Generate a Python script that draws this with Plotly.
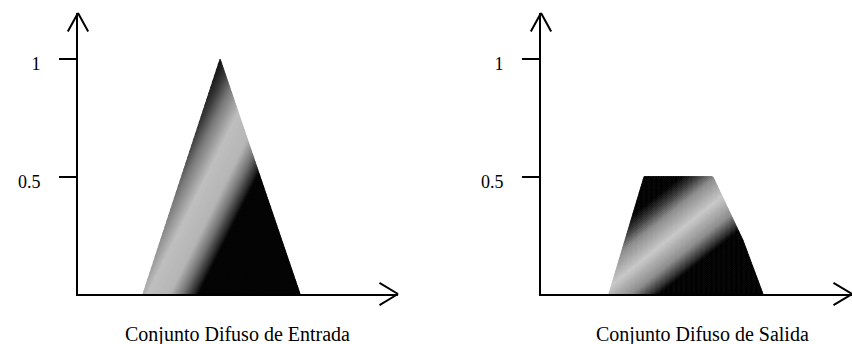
import plotly.graph_objects as go

# ---------------- data ----------------
in_x = [2.03, 4.44, 6.94]          # input fuzzy set (triangle) vertices
in_y = [0.0, 1.0, 0.0]
out_x = [2.12, 3.22, 5.37, 6.31, 6.94]   # output fuzzy set (clipped) vertices
out_y = [0.0, 0.5, 0.5, 0.23, 0.0]
tick_vals = [0.5, 1.0]
tick_text = ["0.5", "1"]
titles = ["Conjunto Difuso de Entrada", "Conjunto Difuso de Salida"]

# ---------------- style ----------------
W, H = 852, 344
FONT = "Liberation Serif, Times New Roman, serif"
PX_PER_X = 32.0
Y0_PX, YTOP_PX, Y1_PX = 294, 13, 59
PX_PER_Y = Y0_PX - Y1_PX
Y_MAX = (Y0_PX - YTOP_PX) / PX_PER_Y

# shading gradients (diagonal, in pixel-like units): (t, gray level)
grad_in = dict(kx=64.0, stops=[(55, 20), (75, 55), (100, 120), (140, 190), (185, 180),
                               (212, 110), (232, 40), (242, 0)])
grad_out = dict(kx=25.6, stops=[(-5, 0), (8, 55), (23, 140), (48, 200), (73, 140),
                                (88, 50), (95, 0)])


def gray_at(stops, t):
    if t <= stops[0][0]:
        return stops[0][1]
    for (t0, g0), (t1, g1) in zip(stops, stops[1:]):
        if t <= t1:
            return g0 + (g1 - g0) * (t - t0) / (t1 - t0)
    return stops[-1][1]


def clip(poly, f, c, keep_ge):
    out = []
    n = len(poly)
    for i in range(n):
        p, q = poly[i], poly[(i + 1) % n]
        fp, fq = f(p) - c, f(q) - c
        if not keep_ge:
            fp, fq = -fp, -fq
        if fp >= 0:
            out.append(p)
        if (fp >= 0) != (fq >= 0):
            r = fp / (fp - fq)
            out.append((p[0] + r * (q[0] - p[0]), p[1] + r * (q[1] - p[1])))
    return out


def shaded_traces(xs, ys, grad, xa, ya):
    kx = grad["kx"]
    f = lambda p: kx * p[0] - PX_PER_Y * p[1]
    poly = list(zip(xs, ys))
    ts = [f(p) for p in poly]
    tmin, tmax = min(ts), max(ts)
    step = 2.0
    traces = []
    t = tmin
    while t < tmax:
        t1 = min(t + step, tmax)
        piece = clip(clip(poly, f, t, True), f, t1, False)
        if len(piece) >= 3:
            g = int(round(gray_at(grad["stops"], (t + t1) / 2)))
            col = f"rgb({g},{g},{g})"
            px = [p[0] for p in piece] + [piece[0][0]]
            py = [p[1] for p in piece] + [piece[0][1]]
            traces.append(go.Scatter(x=px, y=py, mode="lines", fill="toself",
                                     fillcolor=col, line=dict(color=col, width=0.8),
                                     hoverinfo="skip", showlegend=False,
                                     xaxis=xa, yaxis=ya))
        t = t1
    return traces


fig = go.Figure()
for tr in shaded_traces(in_x, in_y, grad_in, "x", "y"):
    fig.add_trace(tr)
for tr in shaded_traces(out_x, out_y, grad_out, "x2", "y2"):
    fig.add_trace(tr)

y_dom = [(H - Y0_PX) / H, (H - YTOP_PX) / H]
panels = [
    dict(ax0=78, ax1=398, title_x=238),
    dict(ax0=541, ax1=852, title_x=702),
]

axis_common = dict(showgrid=False, zeroline=False, showline=True, linecolor="black",
                   linewidth=2)
yaxis_common = dict(axis_common, range=[0, Y_MAX], domain=y_dom, tickmode="array",
                    tickvals=tick_vals, ticktext=tick_text, ticks="outside", ticklen=17,
                    tickwidth=2, tickcolor="black", ticklabelstandoff=15,
                    ticklabelshift=5,
                    tickfont=dict(family=FONT, size=18, color="black"))

layout = dict(width=W, height=H, margin=dict(l=0, r=0, t=0, b=0),
              paper_bgcolor="white", plot_bgcolor="white", showlegend=False)
annotations = []


def chevron(xref, yref, x, y, offsets):
    for ax, ay in offsets:
        annotations.append(dict(text="", xref=xref, yref=yref, x=x, y=y,
                                ax=ax, ay=ay, axref="pixel", ayref="pixel",
                                showarrow=True, arrowhead=0, arrowwidth=2,
                                arrowcolor="black", standoff=0, startstandoff=0))


for i, p in enumerate(panels):
    sfx = "" if i == 0 else str(i + 1)
    xmax = (p["ax1"] - p["ax0"]) / PX_PER_X
    layout["xaxis" + sfx] = dict(axis_common, range=[0, xmax],
                                 domain=[p["ax0"] / W, p["ax1"] / W],
                                 showticklabels=False, ticks="",
                                 anchor="y" + sfx)
    layout["yaxis" + sfx] = dict(yaxis_common, anchor="x" + sfx)
    # open chevron arrow heads at the axis tips
    chevron("x" + sfx, "y" + sfx, 0, Y_MAX, [(-11, 20), (11, 20)])
    chevron("x" + sfx, "y" + sfx, xmax, 0, [(-20, -12), (-20, 12)])
    annotations.append(dict(text=titles[i], xref="paper", yref="paper",
                            x=p["title_x"] / W, y=(H - 334) / H,
                            xanchor="center", yanchor="middle", showarrow=False,
                            font=dict(family=FONT, size=20, color="black")))

layout["annotations"] = annotations
fig.update_layout(**layout)
fig.write_html("out.html", config={"displayModeBar": False, "staticPlot": True},
               post_script="document.body.style.margin='0';"
                           "document.body.style.overflow='hidden';")
